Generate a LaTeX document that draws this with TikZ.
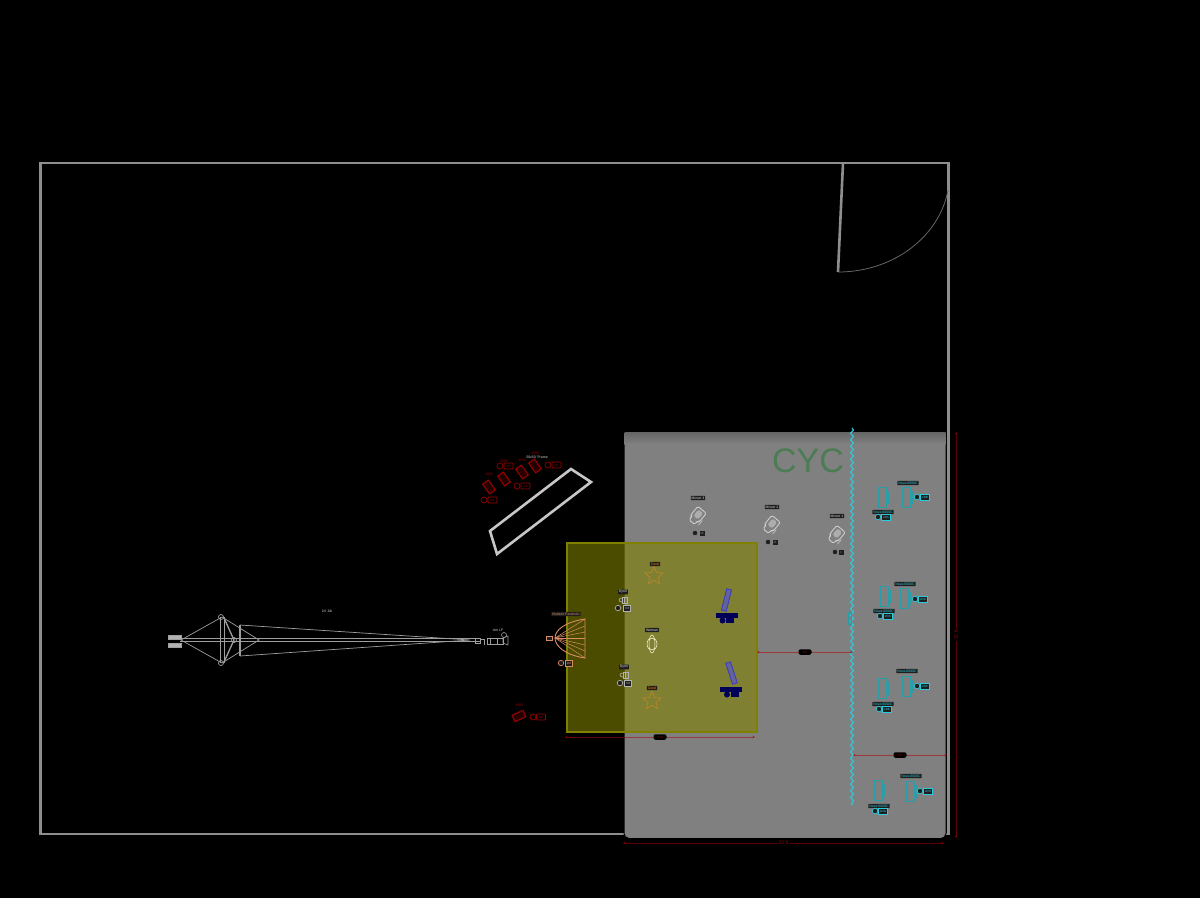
\documentclass[tikz,border=0pt]{standalone}
\usepackage{fontspec}
\setmainfont{Liberation Sans}
\usetikzlibrary{shapes.geometric, decorations.pathmorphing, arrows.meta}
\definecolor{wallgray}{HTML}{8E8E8E}
\definecolor{cycgray}{HTML}{808080}
\definecolor{lightred}{HTML}{960000}
\definecolor{dimred}{HTML}{B00000}
\definecolor{novacyan}{HTML}{2A9CA8}
\definecolor{curtain}{HTML}{2CCBDC}
\definecolor{parabolic}{HTML}{D88C64}
\definecolor{starorange}{HTML}{B8862A}
\definecolor{navy2}{HTML}{00005A}
\definecolor{tagdark}{HTML}{1E1E1E}
\definecolor{gridolive}{HTML}{808000}
\definecolor{cyctext}{HTML}{4C7C54}
\tikzset{
  tiny/.style={font=\fontsize{3.5}{4}\selectfont, inner sep=.9pt, fill=tagdark, rounded corners=.5pt},
  lamplabel/.style={tiny, text=white!85!black},
  redtext/.style={font=\fontsize{3.5}{4}\selectfont, inner sep=.5pt, text=lightred},
  redlight/.style={draw=lightred, fill=lightred!25!black, line width=1.1pt, minimum width=7pt, minimum height=12pt, inner sep=0pt},
  redcirc/.style={circle, draw=lightred, line width=.7pt, minimum size=6pt, inner sep=0pt},
  redbox/.style={draw=lightred, line width=.7pt, rounded corners=.8pt, minimum width=9pt, minimum height=6pt, inner sep=0pt, font=\fontsize{3}{3.4}\selectfont, text=lightred},
  tagcirc/.style={circle, fill=tagdark, draw=#1, line width=.7pt, minimum size=5.5pt, inner sep=0pt},
  tagbox/.style={fill=tagdark, draw=#1, text=#1, line width=.4pt, minimum width=7pt, minimum height=5.5pt, inner sep=0pt, font=\fontsize{3}{3.4}\selectfont},
  nova/.style={draw=novacyan, line width=.8pt, minimum width=8pt, minimum height=20pt, inner sep=0pt},
  novaback/.style={draw=novacyan, line width=.5pt, minimum width=2pt, minimum height=12pt, inner sep=0pt},
  novalabel/.style={tiny, text=curtain},
  pill/.style={fill=black, rounded corners=2pt, minimum width=13pt, minimum height=5.5pt, inner sep=0pt, font=\fontsize{3}{3.4}\selectfont, text=lightred},
  dimline/.style={draw=dimred, draw opacity=.55, line width=.7pt, <->, >={Stealth[length=2.5pt,width=2.5pt]}},
  jib/.style={draw=white!62!black, line width=.9pt},
  panel/.style={draw=blue!55!gray, fill=blue!22!gray, line width=.8pt, minimum width=5pt, minimum height=22pt, inner sep=0pt},
  star5/.style={star, star points=5, star point ratio=2.2, draw=starorange, line width=.7pt, minimum size=19pt, inner sep=0pt},
  mover/.pic={
    \draw[white!80!black, line width=.9pt, rounded corners=1.5pt] (-5.5,-8) -- (5.5,-8) -- (5.5,3) -- (3.5,4) -- (3.5,8) -- (-3.5,8) -- (-3.5,4) -- (-5.5,3) -- cycle;
    \fill[white!68!black, rounded corners=1.5pt] (-3,-6) rectangle (3,2);
    \draw[white!80!black, line width=.6pt] (7,0) -- (7,6);
  },
  dyno/.pic={
    \draw[white!70!black, line width=.6pt] (-1,-3) rectangle (4,3);
    \draw[white!70!black, line width=.6pt] (-1,-2) .. controls (-5,-2) and (-5,2) .. (-1,2);
    \draw[white!70!black, line width=.4pt] (1.5,-3) -- (1.5,3);
  }
}
\begin{document}
\begin{tikzpicture}[x=1pt, y=-1pt]
  \useasboundingbox (0,0) rectangle (1200,898);
  \fill[black] (0,0) rectangle (1200,898);
  % room
  \draw[wallgray, line width=2.6pt] (40.5,163) rectangle (948.5,834);
  \draw[wallgray, line width=2.6pt] (843,163) -- (838,272);
  \draw[white!40!black, line width=.8pt] (838,272) .. controls (895,272) and (940,235) .. (948,190);
  % cyc
  \draw[black, fill=cycgray, line width=1pt, rounded corners=5pt] (624,432) rectangle (946,838.5);
  \shade[top color=white!40!black, bottom color=cycgray] (624.5,432.5) rectangle (945.5,444);
  \node[text=cyctext, font=\fontsize{34}{36}\selectfont, inner sep=0pt] (cyclabel) at (808,461) {CYC};
  % frame
  \draw[white!78!black, line width=2.6pt, line join=miter] (490,531) -- (571,469) -- (591,482) -- (497,554) -- cycle;
  \node[font=\fontsize{3.5}{4}\selectfont, text=white!85!black, inner sep=0pt] (framelabel) at (537,457) {50x50' Frame};
  % red lights
  \foreach \n/\x/\y/\lx/\ly/\cx/\cy/\t in {a/489/487/489/474/484/500/R1, b/504/479/504/461/500/466/R2, c/522/472/522/460/517/486/R3, d/535/466/535/453/548/465/R4} {
    \node[redlight, rotate=35] (red\n) at (\x,\y) {};
    \node[redtext] (red\n label) at (\lx,\ly) {4000};
    \node[redcirc] (red\n circ) at (\cx,\cy) {};
    \node[redbox] (red\n box) at (\cx+8.5,\cy) {\t};
  }
  \node[redlight, rotate=-65] (rede) at (519,716) {};
  \node[redtext] (redelabel) at (519,705) {4000};
  \node[redcirc] (redecirc) at (533,717) {};
  \node[redbox] (redebox) at (541,717) {R5};
  % jib
  \draw[jib] (180,638.5) -- (480,638.5);
  \draw[jib] (180,641.5) -- (480,641.5);
  \draw[jib, fill=white!70!black] (168,635) rectangle (181,639);
  \draw[jib, fill=white!70!black] (168,643) rectangle (181,647);
  \draw[jib, line width=.7pt] (181,640) -- (222,617) -- (259,640) -- (222,663) -- cycle;
  \draw[jib] (220,617) -- (220,663) (224,617) -- (224,663);
  \draw[jib, line width=1.3pt] (224,618) -- (234,640) -- (224,662);
  \draw[jib, line width=1.3pt] (240,625) -- (240,656);
  \draw[jib, line width=.7pt] (240,625) -- (470,640) -- (240,656);
  \draw[jib, line width=.7pt] (221,617) circle (2.5) (221,663) circle (2.5);
  \draw[jib, line width=.7pt] (234,640) circle (2.5);
  \node[font=\fontsize{3.5}{4}\selectfont, text=white!85!black, inner sep=0pt] (jiblabel) at (327,611) {24' Jib};
  % camera
  \draw[jib, line width=.6pt] (475,638) rectangle (480,643) (480,639) -- (484,639) -- (484,645);
  \draw[jib, line width=.6pt] (487,638.5) rectangle (503,644) (490,638.5) -- (490,644) (497,638.5) -- (497,644);
  \draw[jib, line width=.6pt] (503,638) -- (508,636) -- (508,645) -- (503,643) -- cycle;
  \draw[jib, line width=.6pt] (504,635) circle (2.5);
  \node[font=\fontsize{3.5}{4}\selectfont, text=white!85!black, inner sep=0pt] (camlabel) at (498,630) {Arri LF};
  % grid
  \fill[gridolive, fill opacity=.6] (567,543) rectangle (757,732);
  \draw[gridolive, line width=2.4pt] (567,543) rectangle (757,732);
  % parabolic
  \draw[parabolic, line width=.9pt] (585,619) .. controls (565,622) and (555,630) .. (555,638) .. controls (555,646) and (565,655) .. (585,658) -- cycle;
  \foreach \y in {619,626,632,638,645,651,658} {
    \draw[parabolic, line width=.5pt] (555,638) -- (585,\y);
  }
  \node[draw=parabolic, line width=.4pt, fill=tagdark, minimum width=6pt, minimum height=3.5pt, inner sep=0pt] (paraboxa) at (549.5,638) {};
  \node[tiny, text=parabolic] (paralabel) at (566,614) {Hudson Parabolic};
  \node[tagcirc=parabolic] (paracirc) at (561,663) {};
  \node[tagbox=parabolic] (parabox) at (569,663) {9M};
  % dynos
  \pic at (623,600) {dyno};
  \node[lamplabel] (dynoalabel) at (623,592) {Dyno};
  \node[tagcirc=white!70!black] (dynoacirc) at (618,608) {};
  \node[tagbox=white!70!black] (dynoabox) at (627,608) {7M};
  \pic at (624,675) {dyno};
  \node[lamplabel] (dynoblabel) at (624,667) {Dyno};
  \node[tagcirc=white!70!black] (dynobcirc) at (620,683) {};
  \node[tagbox=white!70!black] (dynobbox) at (628,683) {7M};
  % stars
  \node[star5] (coralb) at (654,576) {};
  \node[tiny, text=orange] (coralblabel) at (655,564) {Coral};
  \node[star5] (coralc) at (652,701) {};
  \node[tiny, text=orange] (coralclabel) at (652,688) {Coral};
  % woman
  \node[lamplabel] (womanlabel) at (652,630) {Woman};
  \node[ellipse, draw=white!85!yellow, line width=.5pt, minimum width=10pt, minimum height=12pt, inner sep=0pt] (woman) at (652,644) {};
  \node[ellipse, draw=white!85!yellow, line width=.5pt, minimum width=6pt, minimum height=18pt, inner sep=0pt] (womanb) at (652,644) {};
  % panels
  \node[panel, rotate=-14] (panela) at (726.5,600) {};
  \node[fill=navy2, minimum width=22pt, minimum height=5pt, inner sep=0pt] (panelabar) at (727,615.5) {};
  \node[circle, fill=navy2, minimum size=6pt, inner sep=0pt] (panelacirc) at (722.5,620.5) {};
  \node[fill=navy2, minimum width=8pt, minimum height=6pt, inner sep=0pt] (panelabox) at (730,620) {};
  \node[panel, rotate=18] (panelb) at (731.5,673) {};
  \node[fill=navy2, minimum width=22pt, minimum height=5pt, inner sep=0pt] (panelbbar) at (731,689.5) {};
  \node[circle, fill=navy2, minimum size=6pt, inner sep=0pt] (panelbcirc) at (727,694.5) {};
  \node[fill=navy2, minimum width=8pt, minimum height=6pt, inner sep=0pt] (panelbbox) at (734.5,694) {};
  % movers
  \foreach \n/\x/\y/\lx/\ly/\cx/\bx/\t in {3/697/516/698/498/695/702/3E, 2/771/525/772/507/768/775/2F, 1/836/535/837/516/835/841/1} {
    \pic[rotate=-40] at (\x,\y) {mover};
    \node[lamplabel] (mover\n label) at (\lx,\ly) {Mover \n};
    \node[tagcirc=white!50!black] (mover\n circ) at (\cx,\y+17) {};
    \node[tagbox=white!50!black, minimum width=6pt] (mover\n box) at (\bx,\y+17) {\t};
  }
  % curtain
  \draw[curtain, line width=1.1pt, decorate, decoration={snake, amplitude=1.5pt, segment length=6.5pt}] (852,428) -- (852,805);
  \draw[novacyan, line width=.5pt] (848,612) rectangle (851,624);
  % novas
  \foreach \n/\x/\y/\lx/\ly/\cx/\cy/\t in {a/882/497/883/512/878/517/2DA, b/906/497/908/483/917/497/2DB, c/884/596.5/884/611/880/616/2DC, d/904/598.5/905/584/915/599/2DD, e/882/688.5/883/704/879/709/2DE, f/906/686.5/907/671/917/686/2DF, g/878/790.5/879/806/875/811/2DG, h/910/791/911/776/920/791/2DH} {
    \node[nova] (nova\n) at (\x,\y) {};
    \node[novaback] (nova\n back) at (\x+5,\y) {};
    \node[novalabel] (nova\n label) at (\lx,\ly) {Nova 6000C};
    \node[tagcirc=curtain] (nova\n circ) at (\cx,\cy) {};
    \node[tagbox=curtain, minimum width=9pt] (nova\n box) at (\cx+8,\cy) {\t};
  }
  % dimensions
  \coordinate (gridl) at (565,737);
  \coordinate (gridr) at (755,737);
  \draw[dimline] (gridl) -- node[pill] (griddim) {10 ft} (gridr);
  \coordinate (stagel) at (757,652);
  \coordinate (stager) at (853,652);
  \draw[dimline] (stagel) -- node[pill] (stagedim) {5 ft} (stager);
  \coordinate (wingl) at (853,755);
  \coordinate (wingr) at (947,755);
  \draw[dimline] (wingl) -- node[pill] (wingdim) {5 ft} (wingr);
  \coordinate (cycl) at (623,843);
  \coordinate (cycr) at (944,843);
  \draw[dimline] (cycl) -- node[fill=black, inner sep=.8pt, font=\fontsize{5}{6}\selectfont, text=lightred] (cycdimw) {20 ft} (cycr);
  \coordinate (cyct) at (956,432);
  \coordinate (cycb) at (956,838);
  \draw[dimline] (cyct) -- node[fill=black, inner sep=.8pt, font=\fontsize{5}{6}\selectfont, text=lightred, rotate=90] (cycdimh) {25 ft} (cycb);
\end{tikzpicture}
\end{document}
